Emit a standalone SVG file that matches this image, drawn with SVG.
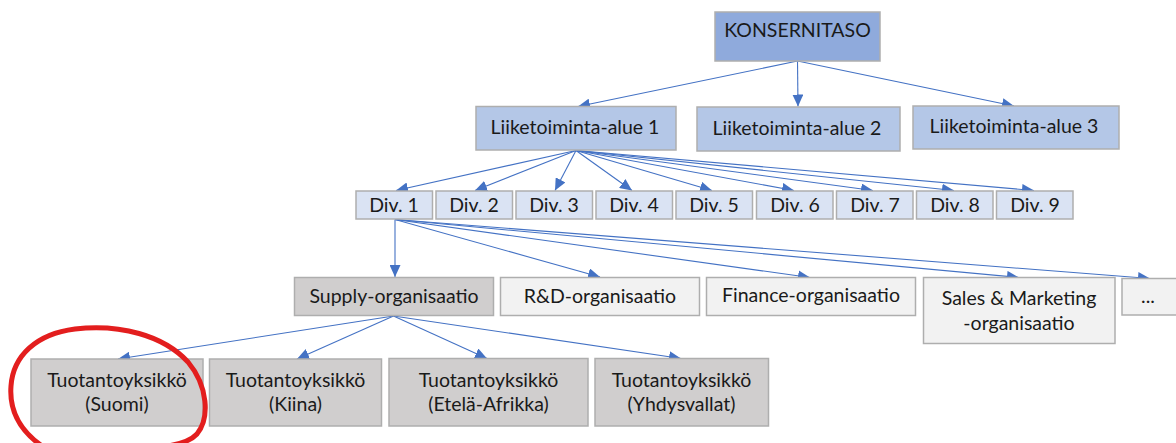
<svg xmlns="http://www.w3.org/2000/svg" width="1176" height="443" viewBox="0 0 1176 443">
  <style>
    .box { stroke: #aeaeae; stroke-width: 1.5; }
    .top { fill: #8faadc; }
    .area { fill: #b4c7e7; }
    .div { fill: #dae3f3; }
    .grey { fill: #d0cece; }
    .light { fill: #f2f2f2; }
    text { font-family: Lato, "Liberation Sans", sans-serif; font-size: 19.5px; fill: #1a1a1a; text-anchor: middle; }
    .link { stroke: #4472c4; stroke-width: 1.1; fill: none; marker-end: url(#arrow); }
    .mark { fill: none; stroke: #e31e1e; stroke-width: 5; stroke-linecap: round; stroke-linejoin: round; }
  </style>
  <defs>
    <marker id="arrow" markerUnits="userSpaceOnUse" markerWidth="13" markerHeight="11" refX="12" refY="5.5" orient="auto" viewBox="0 0 13 11">
      <path d="M0,0 L12,5.5 L0,11 Z" fill="#4472c4"/>
    </marker>
  </defs>
  <rect width="1176" height="443" fill="#ffffff"/>

  <!-- connectors -->
  <g id="connectors">
    <line class="link" x1="797.5" y1="61" x2="578" y2="106.5"/>
    <line class="link" x1="797.5" y1="61" x2="798" y2="106.5"/>
    <line class="link" x1="797.5" y1="61" x2="1014" y2="106"/>

    <line class="link" x1="576" y1="150.5" x2="396" y2="190.5"/>
    <line class="link" x1="576" y1="150.5" x2="475" y2="190.5"/>
    <line class="link" x1="576" y1="150.5" x2="555" y2="190.5"/>
    <line class="link" x1="576" y1="150.5" x2="632" y2="190.5"/>
    <line class="link" x1="576" y1="150.5" x2="712" y2="190.5"/>
    <line class="link" x1="576" y1="150.5" x2="794" y2="190.5"/>
    <line class="link" x1="576" y1="150.5" x2="873" y2="190.5"/>
    <line class="link" x1="576" y1="150.5" x2="954" y2="190.5"/>
    <line class="link" x1="576" y1="150.5" x2="1034" y2="190.5"/>

    <line class="link" x1="395" y1="219.5" x2="395" y2="277"/>
    <line class="link" x1="395" y1="219.5" x2="600" y2="277"/>
    <line class="link" x1="395" y1="219.5" x2="810" y2="277.5"/>
    <line class="link" x1="395" y1="219.5" x2="1019" y2="277.5"/>
    <line class="link" x1="395" y1="219.5" x2="1150" y2="278.5"/>

    <line class="link" x1="393.5" y1="316" x2="118" y2="359"/>
    <line class="link" x1="393.5" y1="316" x2="297" y2="359"/>
    <line class="link" x1="393.5" y1="316" x2="487" y2="358.5"/>
    <line class="link" x1="393.5" y1="316" x2="681" y2="358.5"/>
  </g>

  <!-- group level -->
  <g id="konsernitaso">
    <rect class="box top" x="715" y="12" width="165" height="49"/>
    <text x="797.5" y="37">KONSERNITASO</text>
  </g>

  <!-- business areas -->
  <g id="alue1">
    <rect class="box area" x="476" y="106.5" width="200" height="43.5"/>
    <text x="575" y="134">Liiketoiminta-alue 1</text>
  </g>
  <g id="alue2">
    <rect class="box area" x="697" y="107" width="203" height="44"/>
    <text x="797" y="135">Liiketoiminta-alue 2</text>
  </g>
  <g id="alue3">
    <rect class="box area" x="913" y="106" width="206" height="43"/>
    <text x="1014" y="133">Liiketoiminta-alue 3</text>
  </g>

  <!-- divisions -->
  <g id="div1"><rect class="box div" x="356" y="191" width="76.5" height="28"/><text x="394" y="212">Div. 1</text></g>
  <g id="div2"><rect class="box div" x="436" y="191" width="76.5" height="28"/><text x="474" y="212">Div. 2</text></g>
  <g id="div3"><rect class="box div" x="516" y="191" width="76.5" height="28"/><text x="554" y="212">Div. 3</text></g>
  <g id="div4"><rect class="box div" x="596" y="191" width="76.5" height="28"/><text x="634" y="212">Div. 4</text></g>
  <g id="div5"><rect class="box div" x="676" y="191" width="76.5" height="28"/><text x="714" y="212">Div. 5</text></g>
  <g id="div6"><rect class="box div" x="756.5" y="191" width="76.5" height="28"/><text x="795" y="212">Div. 6</text></g>
  <g id="div7"><rect class="box div" x="836.5" y="191" width="76.5" height="28"/><text x="875" y="212">Div. 7</text></g>
  <g id="div8"><rect class="box div" x="916.5" y="191" width="76.5" height="28"/><text x="955" y="212">Div. 8</text></g>
  <g id="div9"><rect class="box div" x="996.5" y="191" width="76.5" height="28"/><text x="1035" y="212">Div. 9</text></g>

  <!-- functions under Div. 1 -->
  <g id="supply">
    <rect class="box grey" x="294.5" y="277.5" width="199" height="38"/>
    <text x="394" y="303">Supply-organisaatio</text>
  </g>
  <g id="rnd">
    <rect class="box light" x="500.5" y="277.5" width="199" height="38"/>
    <text x="600" y="303">R&amp;D-organisaatio</text>
  </g>
  <g id="finance">
    <rect class="box light" x="706.5" y="277.5" width="209" height="38"/>
    <text x="811" y="302">Finance-organisaatio</text>
  </g>
  <g id="sales">
    <rect class="box light" x="923.5" y="277.5" width="191.5" height="66"/>
    <text x="1019" y="305">Sales &amp; Marketing</text>
    <text x="1019" y="330">-organisaatio</text>
  </g>
  <g id="muut">
    <rect class="box light" x="1122" y="278.5" width="64" height="36.5"/>
    <text x="1148" y="303">...</text>
  </g>

  <!-- production units -->
  <g id="suomi">
    <rect class="box grey" x="31" y="359" width="172" height="67"/>
    <text x="117" y="387">Tuotantoyksikkö</text>
    <text x="117" y="411">(Suomi)</text>
  </g>
  <g id="kiina">
    <rect class="box grey" x="209.5" y="359" width="172" height="67"/>
    <text x="295.5" y="387">Tuotantoyksikkö</text>
    <text x="295.5" y="411">(Kiina)</text>
  </g>
  <g id="etela-afrikka">
    <rect class="box grey" x="389" y="358.5" width="199" height="67.5"/>
    <text x="488.5" y="387">Tuotantoyksikkö</text>
    <text x="488.5" y="411">(Etelä-Afrikka)</text>
  </g>
  <g id="yhdysvallat">
    <rect class="box grey" x="595" y="358.5" width="173.5" height="67.5"/>
    <text x="681.5" y="387">Tuotantoyksikkö</text>
    <text x="681.5" y="411">(Yhdysvallat)</text>
  </g>

  <!-- hand-drawn highlight around the Finnish unit -->
  <path class="mark" d="M42,446 C22,432 9,412 11,386 C13,356 36,334 75,329 C120,324 163,335 188,362 C208,386 210,418 197,434 C184,448 150,449 110,447"/>
</svg>
